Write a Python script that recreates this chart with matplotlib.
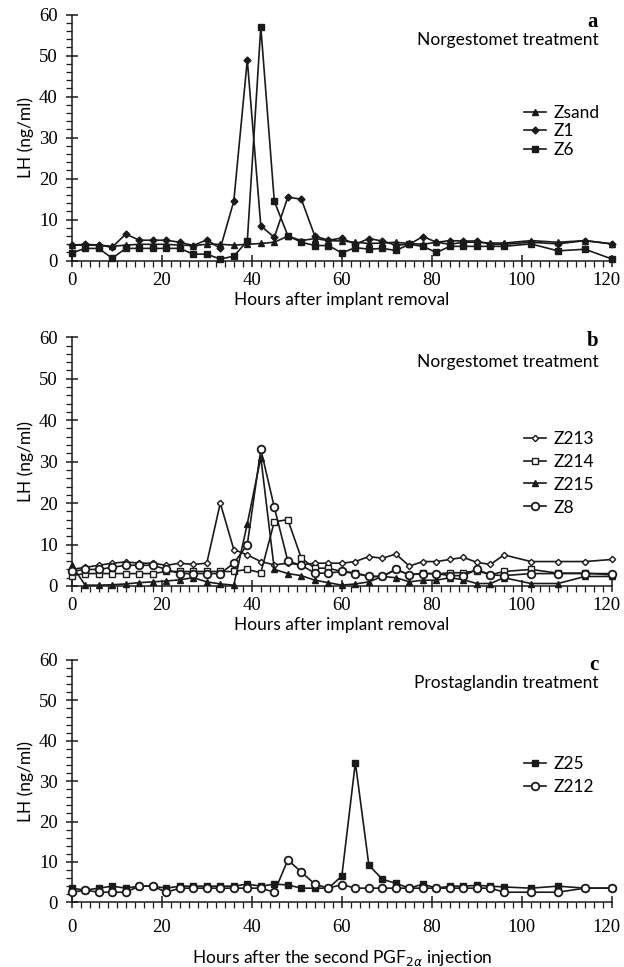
#!/usr/bin/env python3
"""LH profiles after norgestomet implant removal / second PGF2a injection."""

import matplotlib

matplotlib.use("Agg")
import matplotlib.pyplot as plt
import matplotlib.transforms as mtransforms
from matplotlib.ticker import MultipleLocator

# sampling times (h): every 3 h up to 96 h, then every 6 h
hours = [0, 3, 6, 9, 12, 15, 18, 21, 24, 27, 30, 33, 36, 39, 42, 45, 48, 51, 54,
         57, 60, 63, 66, 69, 72, 75, 78, 81, 84, 87, 90, 93, 96, 102, 108, 114, 120]

# panel a
zsand = [3.8, 3.8, 3.8, 3.5, 3.8, 4.0, 4.0, 4.0, 3.8, 3.7, 4.0, 4.0, 3.8, 4.0, 4.2,
         4.5, 6.0, 4.9, 5.4, 4.9, 4.8, 4.5, 4.2, 4.3, 4.5, 4.2, 4.0, 4.5, 4.0, 4.5,
         4.5, 4.3, 4.3, 4.9, 4.5, 4.9, 4.1]
z1 = [3.8, 4.0, 3.8, 3.3, 6.5, 5.0, 5.0, 5.0, 4.5, 3.7, 5.1, 3.0, 14.5, 49.0, 8.5,
      5.7, 15.5, 15.0, 6.0, 5.0, 5.5, 4.0, 5.4, 4.8, 3.8, 4.0, 5.9, 4.5, 4.9, 4.8,
      4.8, 4.0, 4.0, 4.5, 4.1, 4.9, 4.1]
z6 = [1.9, 3.0, 3.0, 0.6, 3.0, 3.0, 3.0, 3.0, 3.0, 1.6, 1.6, 0.4, 1.1, 4.8, 57.0,
      14.5, 6.1, 4.5, 3.7, 3.7, 1.9, 3.2, 2.8, 3.0, 2.5, 4.0, 3.5, 2.0, 3.5, 3.5,
      3.5, 3.5, 3.5, 4.1, 2.4, 2.8, 0.4]

# panel b
z213 = [4.0, 4.5, 5.0, 5.5, 5.8, 5.5, 5.5, 5.0, 5.5, 5.2, 5.5, 20.0, 8.8, 7.5, 5.9,
        5.1, 5.5, 5.1, 5.5, 5.5, 5.5, 5.9, 7.1, 6.7, 7.7, 4.8, 5.9, 5.9, 6.4, 6.9,
        5.7, 5.2, 7.5, 5.9, 5.9, 5.9, 6.4]
z214 = [2.5, 3.0, 3.0, 3.0, 3.0, 3.0, 3.0, 3.5, 3.5, 3.5, 3.5, 3.5, 3.5, 4.0, 3.2,
        15.5, 16.0, 6.7, 4.3, 4.3, 3.5, 3.2, 2.3, 2.3, 4.0, 2.7, 3.1, 2.9, 3.2, 3.2,
        3.7, 2.7, 3.5, 4.0, 3.1, 3.1, 2.7]
z215 = [5.0, 0.2, 0.2, 0.3, 0.5, 0.8, 1.0, 1.2, 1.5, 2.0, 1.0, 0.5, 0.2, 15.0, 31.0,
        4.0, 3.0, 2.5, 1.4, 0.8, 0.2, 0.5, 1.0, 2.3, 2.0, 1.0, 1.4, 1.4, 2.0, 1.5,
        0.6, 0.6, 2.0, 0.6, 0.6, 2.3, 2.3]
z8 = [3.5, 4.0, 4.0, 4.5, 5.0, 5.0, 5.0, 4.0, 3.0, 3.0, 3.0, 3.0, 5.5, 10.0, 33.0,
      19.0, 6.0, 5.0, 3.1, 3.1, 3.5, 3.0, 2.3, 2.3, 4.0, 2.7, 3.0, 3.0, 2.5, 2.5,
      4.0, 2.7, 2.5, 3.0, 3.0, 3.0, 3.0]

# panel c
z25 = [3.5, 3.0, 3.5, 4.0, 3.5, 4.0, 4.0, 3.5, 4.0, 4.0, 4.0, 4.0, 4.0, 4.5, 4.0,
       4.5, 4.3, 3.5, 3.5, 3.5, 6.5, 34.6, 9.2, 5.7, 4.7, 3.5, 4.5, 3.5, 4.0, 4.0,
       4.2, 4.0, 3.8, 3.5, 4.0, 3.5, 3.5]
z212 = [2.5, 3.0, 2.5, 2.5, 2.5, 4.0, 4.0, 2.5, 3.5, 3.5, 3.5, 3.5, 3.5, 3.5, 3.5,
        2.5, 10.5, 7.5, 4.5, 3.5, 4.4, 3.5, 3.5, 3.5, 3.5, 3.5, 3.5, 3.5, 3.5, 3.5,
        3.5, 3.5, 2.5, 2.5, 2.5, 3.5, 3.5]

x_ticks = [0, 20, 40, 60, 80, 100, 120]
y_ticks = [0, 10, 20, 30, 40, 50, 60]

TEXT_FONT = "Lato"
TICK_FONT = "Liberation Serif"
INK = "#1a1a1a"

plt.rcParams.update(
    {
        "font.family": TEXT_FONT,
        "font.size": 12.5,
        "axes.linewidth": 1.1,
        "axes.edgecolor": INK,
        "lines.linewidth": 1.2,
    }
)


def style_axis(ax, xlabel, xpad=4):
    ax.set_xlim(0, 120)
    ax.set_ylim(0, 60)
    ax.spines["top"].set_visible(False)
    ax.spines["right"].set_visible(False)
    ax.set_xticks(x_ticks)
    ax.set_yticks(y_ticks)
    ax.xaxis.set_minor_locator(MultipleLocator(2))
    ax.yaxis.set_minor_locator(MultipleLocator(2))
    ax.tick_params(which="major", direction="inout", length=8, width=1.1, color=INK)
    ax.tick_params(which="minor", direction="out", length=4, width=0.9, color=INK)
    ax.tick_params(axis="y", which="major", pad=6)
    ax.tick_params(axis="x", which="major", pad=xpad)
    for lbl in ax.get_xticklabels() + ax.get_yticklabels():
        lbl.set_fontfamily(TICK_FONT)
        lbl.set_fontsize(13.5)
    # keep the last x label ("120") inside the figure edge
    shift = mtransforms.ScaledTranslation(-4 / 72, 0, ax.figure.dpi_scale_trans)
    last = ax.get_xticklabels()[-1]
    last.set_transform(last.get_transform() + shift)
    ax.set_ylabel("LH (ng/ml)", fontsize=12.5, labelpad=4)
    ax.set_xlabel(xlabel, fontsize=12.5, labelpad=2)


def main():
    fig = plt.figure(figsize=(6.24, 9.67), dpi=100)
    W, H = 624.0, 967.0

    def add_axes(top_px, bottom_px):
        return fig.add_axes([71.7 / W, 1 - bottom_px / H, (612 - 71.7) / W,
                             (bottom_px - top_px) / H])

    ax_a = add_axes(14.7, 260.7)
    ax_b = add_axes(337.3, 586.0)
    ax_c = add_axes(660.0, 902.3)

    line_kw = dict(color=INK, clip_on=False, zorder=3)
    leg_kw = dict(loc="upper left", bbox_transform=fig.transFigure, frameon=False,
                  handlelength=1.3, handletextpad=0.4, borderpad=0, fontsize=12.5)

    # panel a
    ax_a.plot(hours, zsand, marker="^", markersize=4.5, label="Zsand", **line_kw)
    ax_a.plot(hours, z1, marker="D", markersize=3.5, label="Z1", **line_kw)
    ax_a.plot(hours, z6, marker="s", markersize=4.5, label="Z6", **line_kw)
    style_axis(ax_a, "Hours after implant removal")
    ax_a.text(598 / W, 1 - 12 / H, "a", transform=fig.transFigure, ha="right",
              va="top", fontsize=15, fontweight="bold", family="Liberation Serif")
    ax_a.text(599 / W, 1 - 40 / H, "Norgestomet treatment", transform=fig.transFigure,
              ha="right", va="center", fontsize=12.5)
    ax_a.legend(bbox_to_anchor=(515 / W, 1 - 96 / H), labelspacing=0.15, **leg_kw)

    # panel b
    ax_b.plot(hours, z213, marker="D", markersize=3.2, markerfacecolor="white",
              label="Z213", **line_kw)
    ax_b.plot(hours, z214, marker="s", markersize=4.5, markerfacecolor="white",
              label="Z214", **line_kw)
    ax_b.plot(hours, z215, marker="^", markersize=4, label="Z215", **line_kw)
    ax_b.plot(hours, z8, marker="o", markersize=5.5, markerfacecolor="white",
              markeredgewidth=1.3, label="Z8", **line_kw)
    style_axis(ax_b, "Hours after implant removal")
    ax_b.text(598 / W, 1 - 331 / H, "b", transform=fig.transFigure, ha="right",
              va="top", fontsize=15, fontweight="bold", family="Liberation Serif")
    ax_b.text(599 / W, 1 - 362 / H, "Norgestomet treatment", transform=fig.transFigure,
              ha="right", va="center", fontsize=12.5)
    ax_b.legend(bbox_to_anchor=(515 / W, 1 - 422 / H), labelspacing=0.4, **leg_kw)

    # panel c
    ax_c.plot(hours, z25, marker="s", markersize=4.5, label="Z25", **line_kw)
    ax_c.plot(hours, z212, marker="o", markersize=5.5, markerfacecolor="white",
              markeredgewidth=1.3, label="Z212", **line_kw)
    style_axis(ax_c, r"Hours after the second PGF$_{2\alpha}$ injection", xpad=8)
    ax_c.xaxis.labelpad = 9
    ax_c.text(598 / W, 1 - 655 / H, "c", transform=fig.transFigure, ha="right",
              va="top", fontsize=15, fontweight="bold", family="Liberation Serif")
    ax_c.text(599 / W, 1 - 683 / H, "Prostaglandin treatment", transform=fig.transFigure,
              ha="right", va="center", fontsize=12.5)
    ax_c.legend(bbox_to_anchor=(515 / W, 1 - 747 / H), labelspacing=0.4, **leg_kw)

    fig.savefig("out.png", dpi=100)
    plt.close(fig)


if __name__ == "__main__":
    main()
